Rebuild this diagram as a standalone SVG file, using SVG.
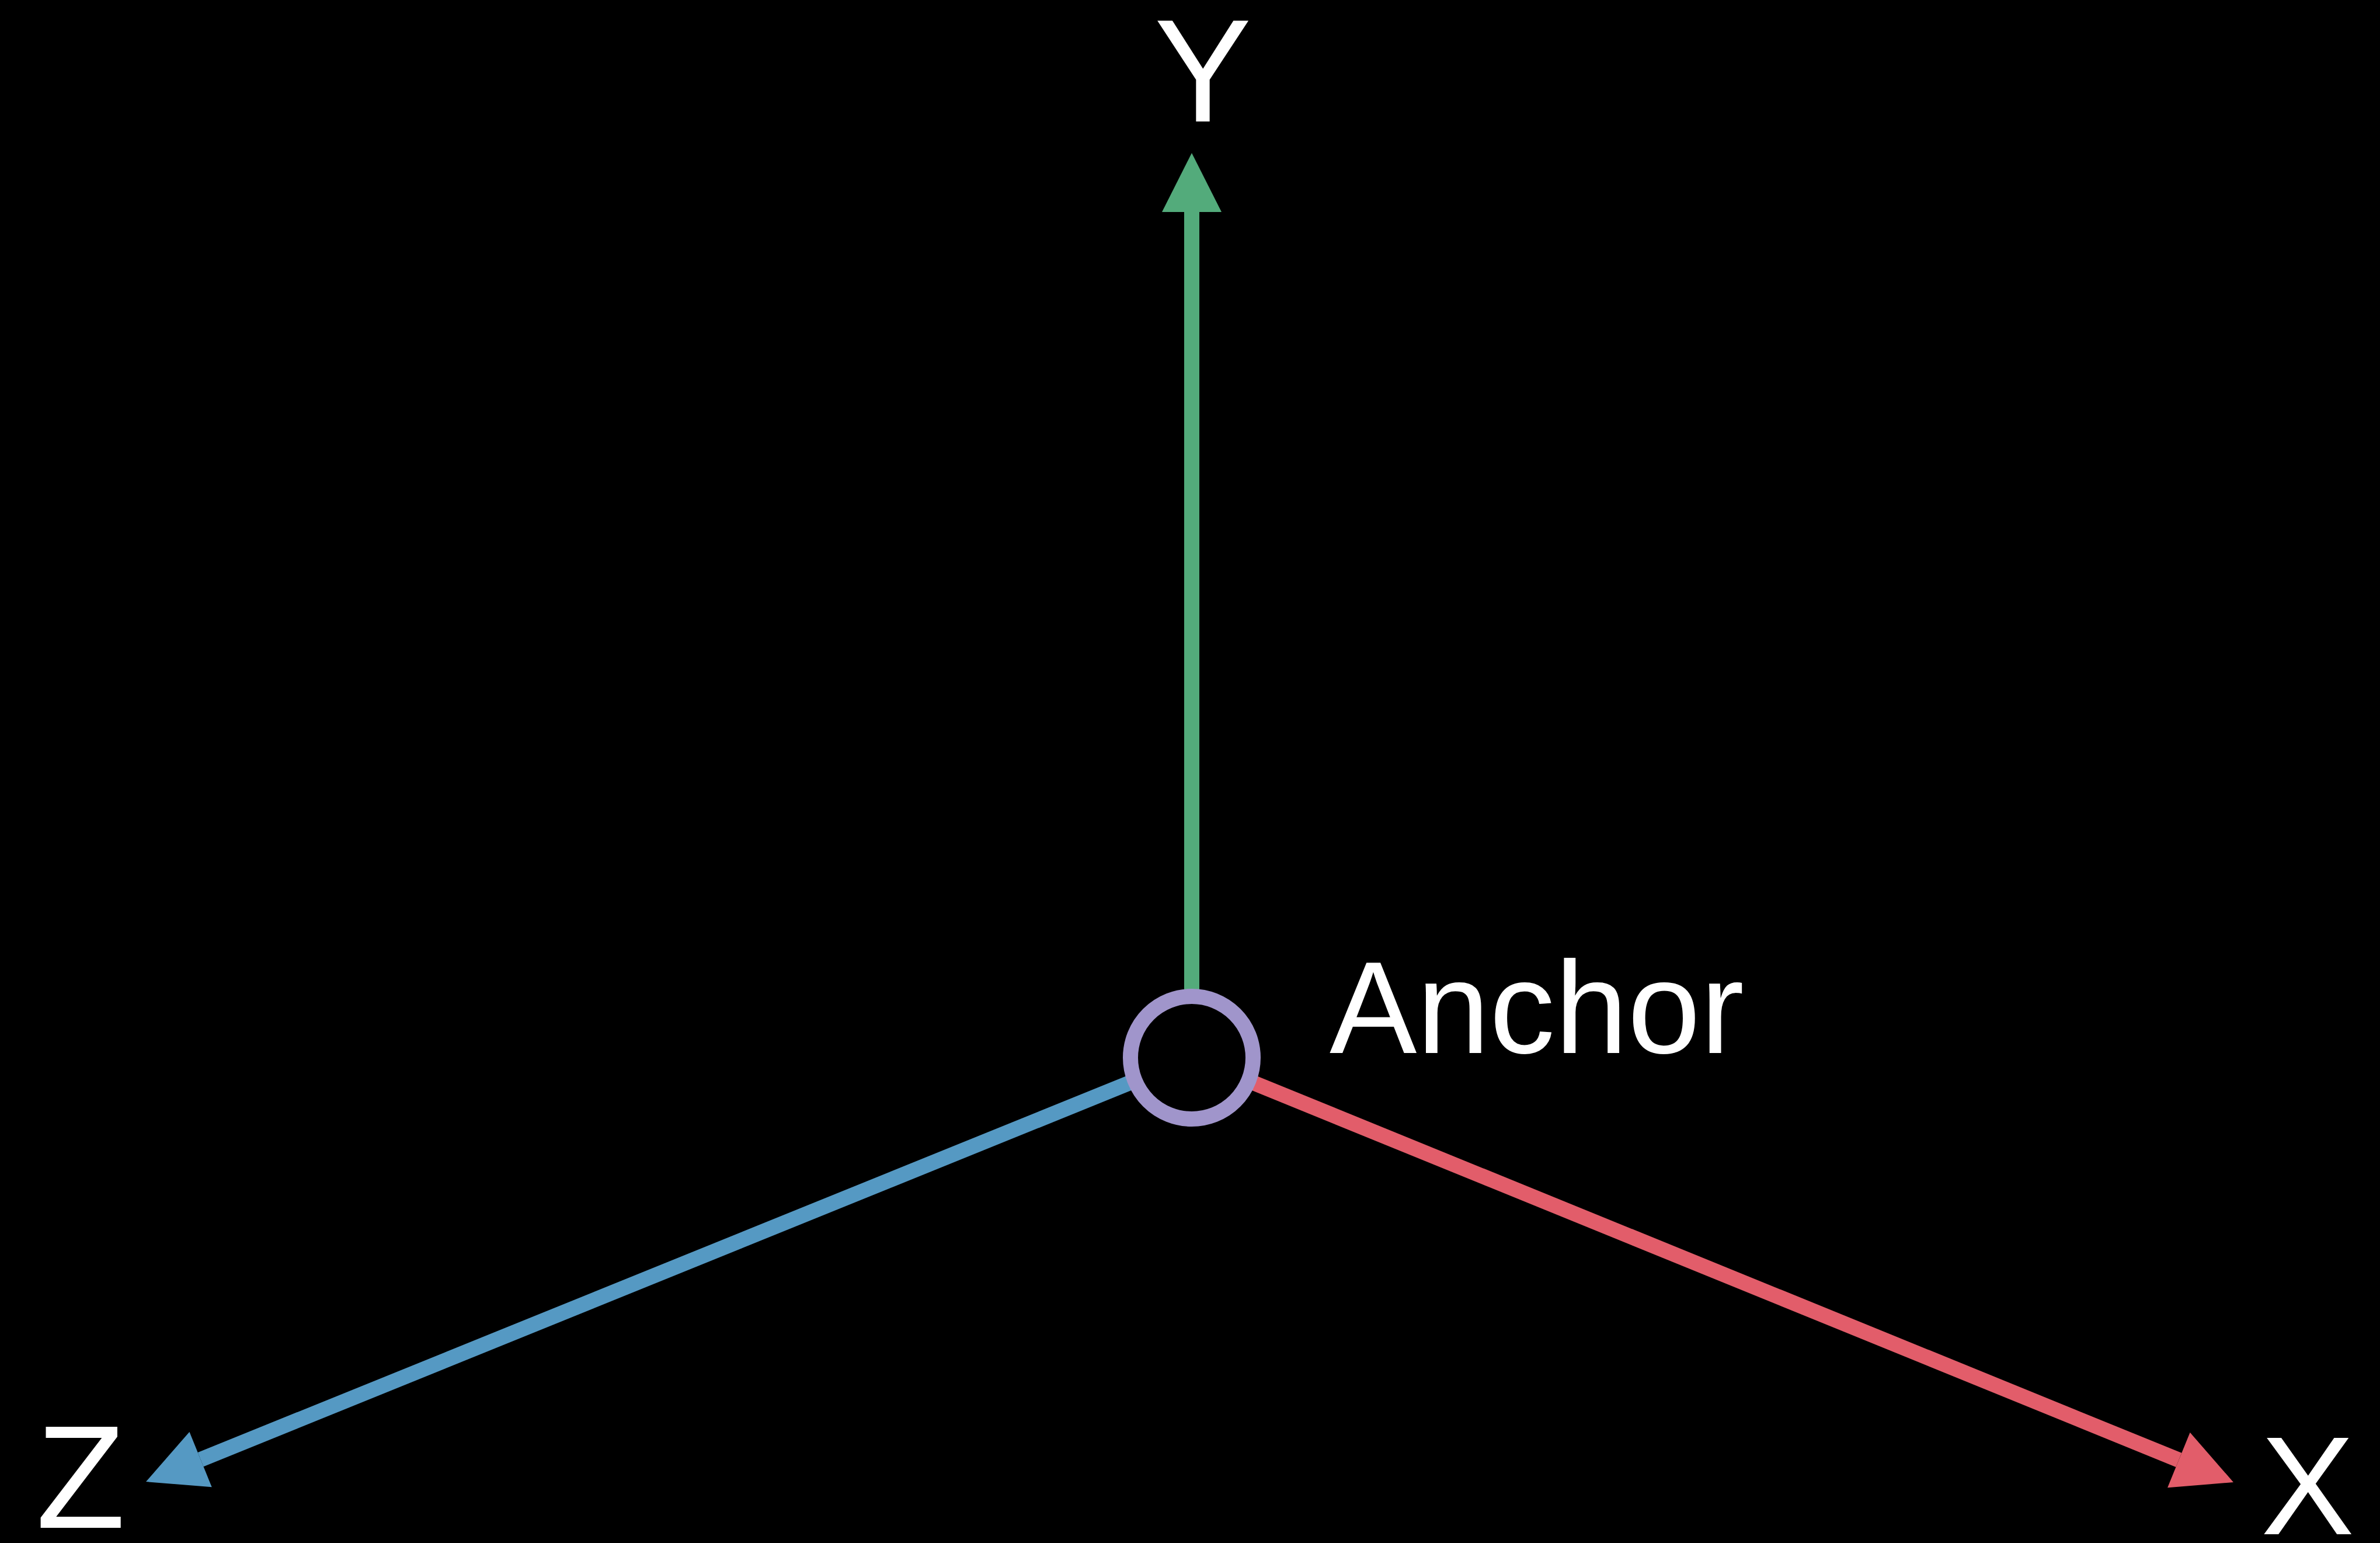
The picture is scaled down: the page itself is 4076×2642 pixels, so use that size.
<svg xmlns="http://www.w3.org/2000/svg" width="4076" height="2642" viewBox="0 0 4076 2642">
<style>
.lbl{font-family:"Liberation Sans",Arial,sans-serif;fill:#ffffff}
.ax{stroke-width:26;fill:none}
</style>
<defs>
<marker id="ahG" markerUnits="userSpaceOnUse" markerWidth="102" markerHeight="104" refX="0" refY="51" orient="auto" viewBox="0 0 102 104" overflow="visible"><path d="M0,0 L101,51 L0,102 z" fill="#53ab7b"/></marker>
<marker id="ahR" markerUnits="userSpaceOnUse" markerWidth="102" markerHeight="104" refX="0" refY="51" orient="auto" viewBox="0 0 102 104" overflow="visible"><path d="M0,0 L101,51 L0,102 z" fill="#e25d6a"/></marker>
<marker id="ahB" markerUnits="userSpaceOnUse" markerWidth="102" markerHeight="104" refX="0" refY="51" orient="auto" viewBox="0 0 102 104" overflow="visible"><path d="M0,0 L101,51 L0,102 z" fill="#5599c3"/></marker>
</defs>
<rect width="4076" height="2642" fill="#000000"/>
<g id="connectors">
<line class="ax" x1="2041" y1="1811" x2="2041" y2="363" stroke="#53ab7b" marker-end="url(#ahG)"/>
<line class="ax" x1="2041" y1="1811" x2="3731.4" y2="2499.9" stroke="#e25d6a" marker-end="url(#ahR)"/>
<line class="ax" x1="2041" y1="1811" x2="343.6" y2="2499.1" stroke="#5599c3" marker-end="url(#ahB)"/>
</g>
<g id="anchor">
<circle cx="2041" cy="1811" r="105" fill="#000000" stroke="#a095cb" stroke-width="26"/>
<text class="lbl" x="2277" y="1803" font-size="224">Anchor</text>
</g>
<g id="label-y"><text class="lbl" x="2060" y="208" font-size="250" text-anchor="middle">Y</text></g>
<g id="label-x"><text class="lbl" x="3952" y="2627" font-size="240" text-anchor="middle">X</text></g>
<g id="label-z"><text class="lbl" x="138" y="2616" font-size="250" text-anchor="middle">Z</text></g>
</svg>
